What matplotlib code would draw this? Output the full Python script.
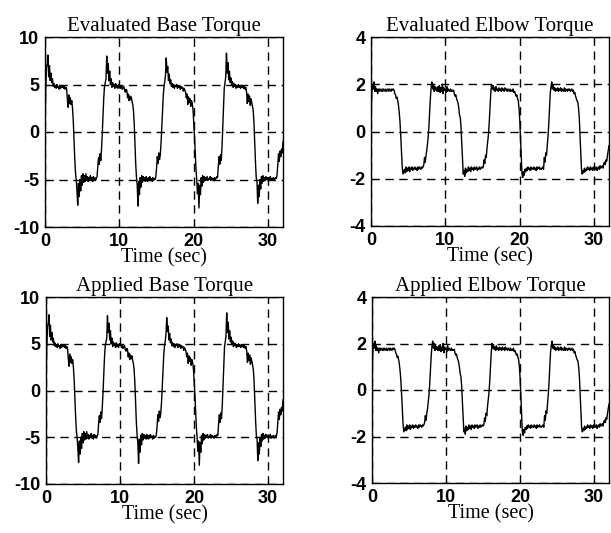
import numpy as np
import matplotlib
matplotlib.use("Agg")
import matplotlib.pyplot as plt

plt.rcParams["axes.unicode_minus"] = False

# sampled every 0.1 s from 0 to 32 s
sample_step = 0.1

base_torque = [
    0.5, 4.5, 6.8, 7.2, 8.1, 5.8, 7.0, 5.4, 6.2, 5.2,
    5.6, 4.8, 5.1, 4.7, 4.9, 4.6, 5.0, 4.7, 4.8, 4.5,
    4.9, 4.6, 4.8, 4.7, 4.9, 4.6, 4.8, 4.5, 4.7, 4.6,
    3.5, 2.6, 3.9, 3.0, 3.6, 2.9, 3.3, 2.5, 1.2, -0.8,
    -2.8, -4.3, -5.0, -6.2, -7.7, -5.4, -6.8, -5.0, -6.2, -4.6,
    -5.6, -4.4, -5.3, -4.6, -5.2, -4.4, -5.1, -4.7, -5.2, -4.8,
    -5.0, -4.6, -5.1, -4.8, -5.2, -4.7, -5.0, -4.8, -5.1, -4.9,
    -4.7, -3.6, -2.7, -3.4, -2.3, -3.0, -1.8, -0.2, 1.8, 3.6,
    4.8, 5.2, 5.6, 8.0, 6.2, 7.2, 5.4, 6.4, 5.0, 5.6,
    4.7, 5.2, 4.8, 5.0, 4.6, 5.1, 4.7, 4.9, 4.6, 5.0,
    4.8, 4.9, 4.6, 4.8, 4.5, 4.7, 4.8, 4.4, 4.2, 4.5,
    4.4, 3.6, 4.0, 3.3, 3.8, 3.4, 3.7, 3.2, 2.9, 2.2,
    0.8, -1.2, -3.4, -4.8, -5.6, -7.8, -5.2, -6.6, -4.8, -5.8,
    -4.6, -5.3, -4.7, -5.1, -4.8, -5.2, -4.7, -5.0, -5.2, -4.8,
    -5.1, -4.7, -5.0, -4.9, -5.2, -4.8, -5.1, -4.9, -5.0, -4.7,
    -3.8, -2.6, -3.3, -2.2, -2.9, -2.4, -1.2, 0.5, 2.2, 3.8,
    4.8, 5.3, 6.0, 7.8, 6.3, 6.9, 5.4, 6.1, 5.1, 5.5,
    4.8, 5.1, 4.7, 5.0, 4.6, 4.9, 4.8, 5.0, 4.6, 4.8,
    4.7, 4.9, 4.5, 4.8, 4.6, 4.7, 4.3, 4.6, 4.4, 4.2,
    3.6, 4.0, 2.9, 3.7, 3.1, 3.5, 2.7, 3.3, 3.0, 2.4,
    1.0, -0.4, -2.2, -3.9, -5.0, -6.5, -5.4, -8.0, -5.6, -6.6,
    -4.8, -5.7, -4.6, -5.3, -4.7, -5.1, -4.8, -5.0, -4.7, -5.1,
    -4.9, -5.0, -4.7, -5.1, -4.8, -5.0, -4.9, -5.1, -4.8, -5.0,
    -4.9, -4.7, -4.8, -3.6, -2.6, -3.4, -2.4, -3.0, -1.6, 0.4,
    2.6, 4.6, 5.2, 5.8, 8.3, 6.2, 7.3, 5.5, 6.4, 5.2,
    5.7, 4.9, 5.3, 4.7, 5.1, 4.8, 5.0, 4.6, 4.9, 4.7,
    5.0, 4.7, 4.9, 4.6, 4.8, 4.7, 4.9, 4.6, 4.8, 4.5,
    4.7, 4.2, 3.0, 4.0, 3.2, 3.8, 2.8, 3.5, 3.1, 2.7,
    2.2, 0.9, -1.2, -3.2, -4.8, -5.2, -7.5, -5.6, -6.8, -5.0,
    -6.0, -4.7, -5.4, -4.6, -5.2, -4.8, -5.1, -4.7, -5.0, -4.8,
    -5.1, -4.8, -5.0, -4.7, -5.1, -4.9, -5.0, -4.8, -5.1, -4.9,
    -4.8, -4.9, -4.5, -3.4, -2.3, -3.1, -2.0, -2.6, -1.8, -2.2,
    -1.0,
]

elbow_torque = [
    0.3, 1.6, 2.0, 1.8, 2.1, 1.7, 1.9, 1.7, 1.8, 1.6,
    1.8, 1.7, 1.8, 1.75, 1.7, 1.8, 1.7, 1.8, 1.75, 1.7,
    1.8, 1.7, 1.75, 1.8, 1.7, 1.8, 1.75, 1.7, 1.8, 1.75,
    1.8, 1.75, 1.6, 1.55, 1.4, 1.45, 1.3, 1.1, 0.8, 0.4,
    -0.2, -0.9, -1.5, -1.8, -1.7, -1.6, -1.75, -1.5, -1.7, -1.55,
    -1.65, -1.5, -1.7, -1.55, -1.6, -1.5, -1.65, -1.55, -1.6, -1.5,
    -1.6, -1.55, -1.65, -1.5, -1.6, -1.5, -1.55, -1.6, -1.5, -1.55,
    -1.5, -1.4, -1.1, -1.3, -1.0, -0.8, -0.5, -0.2, 0.3, 0.9,
    1.5, 1.9, 2.1, 1.8, 2.0, 1.7, 1.9, 1.75, 1.85, 1.7,
    1.9, 1.7, 1.95, 1.65, 1.85, 1.7, 2.0, 1.6, 1.85, 1.75,
    1.8, 1.65, 1.9, 1.7, 1.8, 1.75, 1.7, 1.8, 1.7, 1.75,
    1.7, 1.75, 1.6, 1.5, 1.55, 1.4, 1.3, 1.2, 1.0, 0.7,
    0.6, 0.2, -0.5, -1.3, -1.8, -1.65, -1.9, -1.55, -1.75, -1.6,
    -1.7, -1.5, -1.65, -1.55, -1.7, -1.5, -1.6, -1.55, -1.65, -1.5,
    -1.6, -1.55, -1.5, -1.65, -1.55, -1.6, -1.5, -1.6, -1.55, -1.5,
    -1.55, -1.5, -1.2, -1.35, -1.0, -1.1, -0.7, -0.4, -0.1, 0.4,
    1.0, 1.6, 2.0, 1.8, 1.95, 1.75, 1.85, 1.7, 1.9, 1.75,
    1.8, 1.7, 1.85, 1.75, 1.8, 1.7, 1.85, 1.75, 1.8, 1.7,
    1.85, 1.75, 1.8, 1.7, 1.8, 1.75, 1.7, 1.8, 1.7, 1.75,
    1.7, 1.8, 1.65, 1.7, 1.6, 1.5, 1.55, 1.4, 1.3, 1.0,
    0.5, -0.3, -1.2, -1.8, -1.95, -1.7, -1.85, -1.6, -1.7, -1.55,
    -1.65, -1.5, -1.6, -1.55, -1.65, -1.5, -1.6, -1.55, -1.6, -1.5,
    -1.6, -1.55, -1.65, -1.5, -1.6, -1.55, -1.5, -1.6, -1.55, -1.6,
    -1.55, -1.5, -1.6, -1.1, -1.3, -0.9, -1.0, -0.6, -0.2, 0.3,
    1.0, 1.6, 1.9, 2.1, 1.8, 1.95, 1.75, 1.85, 1.7, 1.8,
    1.75, 1.85, 1.7, 1.8, 1.75, 1.85, 1.7, 1.8, 1.75, 1.7,
    1.85, 1.7, 1.8, 1.75, 1.7, 1.8, 1.75, 1.8, 1.7, 1.75,
    1.8, 1.7, 1.75, 1.6, 1.65, 1.5, 1.4, 1.3, 1.25, 1.0,
    0.6, -0.1, -0.9, -1.6, -1.8, -1.65, -1.75, -1.55, -1.7, -1.6,
    -1.65, -1.5, -1.6, -1.55, -1.65, -1.5, -1.6, -1.55, -1.65, -1.5,
    -1.6, -1.55, -1.6, -1.5, -1.65, -1.55, -1.5, -1.6, -1.45, -1.55,
    -1.5, -1.45, -1.55, -1.35, -1.3, -1.4, -1.2, -1.25, -1.0, -0.8,
    -0.6,
]

titles = ["Evaluated Base Torque", "Evaluated Elbow Torque",
          "Applied Base Torque", "Applied Elbow Torque"]
base_ticks = [-10, -5, 0, 5, 10]
elbow_ticks = [-4, -2, 0, 2, 4]
time_ticks = [0, 10, 20, 30]

time = np.arange(len(base_torque)) * sample_step

fig = plt.figure(figsize=(6.11, 5.33), dpi=100)

# axes boxes in pixels (left, top, right, bottom)
boxes = [(45, 37, 283, 227), (371, 37, 609, 226),
         (46, 297, 283, 484), (372, 297, 609, 483)]

W, H = 611, 533
for i, (l, t, r, b) in enumerate(boxes):
    ax = fig.add_axes([l / W, 1 - b / H, (r - l) / W, (b - t) / H])
    if i % 2 == 0:
        ax.plot(time, base_torque, color="black", lw=1.0)
        ax.set_ylim(-10, 10)
        ax.set_yticks(base_ticks)
    else:
        ax.plot(time, elbow_torque, color="black", lw=1.0)
        ax.set_ylim(-4, 4)
        ax.set_yticks(elbow_ticks)
    ax.set_xlim(0, 32)
    ax.set_xticks(time_ticks)
    ax.grid(True, color="black", ls=(0, (6, 4)), lw=1.0)
    ax.tick_params(direction="in", length=3, pad=4, labelsize=13)
    for lab in ax.get_xticklabels() + ax.get_yticklabels():
        lab.set_fontfamily("Liberation Sans")
        lab.set_fontweight("bold")
    for sp in ax.spines.values():
        sp.set_linewidth(1.0)
    ax.set_title(titles[i], fontfamily="Liberation Serif", fontsize=15, pad=4)
    ax.set_xlabel("Time (sec)", fontfamily="Liberation Serif", fontsize=14.5, labelpad=-1)

fig.savefig("out.png", dpi=100)
